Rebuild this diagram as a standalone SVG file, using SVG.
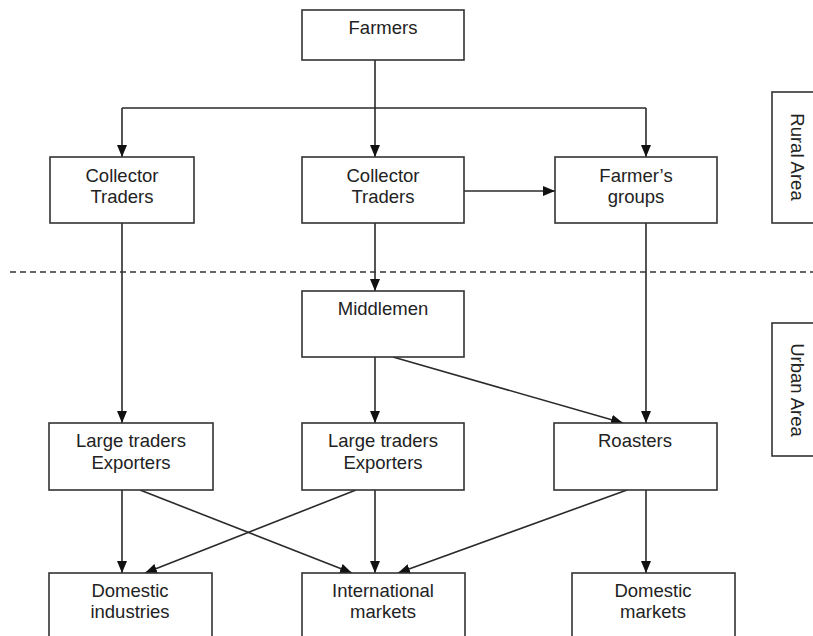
<svg xmlns="http://www.w3.org/2000/svg" width="813" height="636" viewBox="0 0 813 636">
<style>
.box{fill:#fff;stroke:#333;stroke-width:1.6}
.t{font-family:"Liberation Sans",Arial,sans-serif;font-size:18.5px;fill:#222;text-anchor:middle}
.c{fill:none;stroke:#2a2a2a;stroke-width:1.6}
.a{marker-end:url(#ah)}
</style>
<defs>
<marker id="ah" markerUnits="userSpaceOnUse" markerWidth="12" markerHeight="10" viewBox="0 0 12 10" refX="12" refY="5" orient="auto">
<path d="M0,0 L12,5 L0,10 z" fill="#111"/>
</marker>
</defs>
<rect width="813" height="636" fill="#fff"/>
<g id="connectors">
<line class="c" x1="375" y1="60" x2="375" y2="108"/>
<line class="c" x1="122" y1="108" x2="646" y2="108"/>
<line class="c a" x1="122" y1="108" x2="122" y2="157"/>
<line class="c a" x1="375" y1="108" x2="375" y2="157"/>
<line class="c a" x1="646" y1="108" x2="646" y2="157"/>
<line class="c a" x1="464" y1="191" x2="555" y2="191"/>
<line class="c a" x1="122" y1="223" x2="122" y2="423"/>
<line class="c a" x1="375" y1="223" x2="375" y2="291"/>
<line class="c a" x1="646" y1="223" x2="646" y2="423"/>
<line class="c a" x1="375" y1="357" x2="375" y2="423"/>
<line class="c a" x1="393" y1="357" x2="623" y2="423"/>
<line class="c a" x1="122" y1="490" x2="122" y2="573"/>
<line class="c a" x1="140" y1="490" x2="352" y2="573"/>
<line class="c a" x1="356" y1="490" x2="145" y2="573"/>
<line class="c a" x1="375" y1="490" x2="375" y2="573"/>
<line class="c a" x1="627" y1="490" x2="398" y2="573"/>
<line class="c a" x1="646" y1="490" x2="646" y2="573"/>
<line x1="10" y1="272" x2="813" y2="272" stroke="#333" stroke-width="1.4" stroke-dasharray="6,4"/>
</g>
<g id="farmers"><rect class="box" x="302" y="10" width="162" height="50"/><text class="t" x="383" y="34">Farmers</text></g>
<g id="collector1"><rect class="box" x="50" y="157" width="144" height="66"/><text class="t" x="122" y="182">Collector</text><text class="t" x="122" y="203">Traders</text></g>
<g id="collector2"><rect class="box" x="302" y="157" width="162" height="66"/><text class="t" x="383" y="182">Collector</text><text class="t" x="383" y="203">Traders</text></g>
<g id="farmersgroups"><rect class="box" x="555" y="157" width="162" height="66"/><text class="t" x="636" y="182">Farmer’s</text><text class="t" x="636" y="203">groups</text></g>
<g id="middlemen"><rect class="box" x="302" y="291" width="162" height="66"/><text class="t" x="383" y="315">Middlemen</text></g>
<g id="large1"><rect class="box" x="49" y="423" width="164" height="67"/><text class="t" x="131" y="447">Large traders</text><text class="t" x="131" y="469">Exporters</text></g>
<g id="large2"><rect class="box" x="302" y="423" width="162" height="67"/><text class="t" x="383" y="447">Large traders</text><text class="t" x="383" y="469">Exporters</text></g>
<g id="roasters"><rect class="box" x="554" y="423" width="163" height="67"/><text class="t" x="635" y="447">Roasters</text></g>
<g id="domind"><rect class="box" x="49" y="573" width="163" height="80"/><text class="t" x="130" y="597">Domestic</text><text class="t" x="130" y="618">industries</text></g>
<g id="intl"><rect class="box" x="302" y="573" width="163" height="80"/><text class="t" x="383" y="597">International</text><text class="t" x="383" y="618">markets</text></g>
<g id="dommk"><rect class="box" x="572" y="573" width="163" height="80"/><text class="t" x="653" y="597">Domestic</text><text class="t" x="653" y="618">markets</text></g>
<g id="rural"><rect class="box" x="772" y="92" width="60" height="131"/><text class="t" transform="translate(791,157) rotate(90)">Rural Area</text></g>
<g id="urban"><rect class="box" x="772" y="323" width="60" height="133"/><text class="t" transform="translate(791,390) rotate(90)">Urban Area</text></g>
</svg>
